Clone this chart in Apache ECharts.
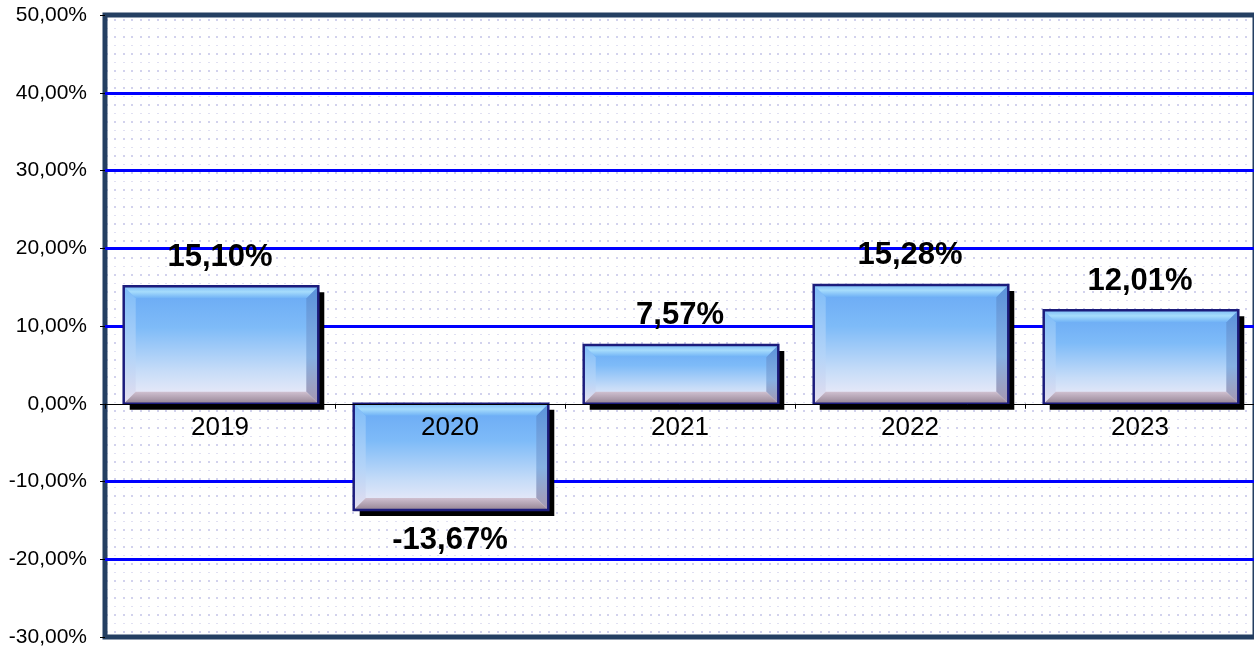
<!DOCTYPE html>
<html>
<head>
<meta charset="utf-8">
<script src="https://cdn.jsdelivr.net/npm/echarts@6/dist/echarts.min.js"></script>
<style>
  html, body { margin: 0; padding: 0; background: #ffffff; }
  #chart { width: 1254px; height: 649px; }
</style>
</head>
<body>
<div id="chart"></div>
<script>
// Annual returns per year
const categories = ['2019', '2020', '2021', '2022', '2023'];
const returns = [15.10, -13.67, 7.57, 15.28, 12.01];

// Value axis range
const yMin = -30;
const yMax = 50;
const yStep = 10;

const FONT = '"Liberation Sans", Arial, Helvetica, sans-serif';

function pct(v) {
  return v.toFixed(2).replace('.', ',') + '%';
}

// Dotted plot-area texture
function makeDots() {
  const c = document.createElement('canvas');
  c.width = 17; c.height = 17;
  const g = c.getContext('2d');
  g.fillStyle = '#ffffff';
  g.fillRect(0, 0, 17, 17);
  g.fillStyle = 'rgba(205,205,235,0.9)';
  g.fillRect(4, 2, 2, 2);
  g.fillRect(12, 2, 2, 2);
  g.fillStyle = 'rgba(218,218,240,0.85)';
  g.fillRect(4, 11, 2, 1);
  g.fillRect(12, 11, 2, 1);
  return c;
}

// Bevelled bar with drop shadow, value label and year label on the zero line
function renderBar(params, api) {
  const idx = api.value(0);
  const v = api.value(1);
  const pTop = api.coord([idx, Math.max(v, 0)]);
  const pBot = api.coord([idx, Math.min(v, 0)]);
  const pZero = api.coord([idx, 0]);
  const band = api.size([1, 0])[0];
  const w = band * 0.846;
  const x = pTop[0] - w / 2 + 1;
  const y = pTop[1];
  const h = pBot[1] - pTop[1];
  const b = Math.min(12, h / 3, w / 3);
  const sh = 6;

  const faceFill = new echarts.graphic.LinearGradient(0, 0, 0, 1, [
    { offset: 0, color: '#68a8f4' },
    { offset: 0.35, color: '#7ebbf8' },
    { offset: 0.72, color: '#c6dcf8' },
    { offset: 1, color: '#f4eef8' }
  ]);
  const topFill = new echarts.graphic.LinearGradient(0, 0, 0, 1, [
    { offset: 0, color: '#7cbcf6' },
    { offset: 0.45, color: '#a6dcfc' },
    { offset: 1, color: '#70b2f6' }
  ]);
  const rightFill = new echarts.graphic.LinearGradient(0, 0, 0, 1, [
    { offset: 0, color: '#5a92da' },
    { offset: 0.6, color: '#86b0e2' },
    { offset: 1, color: '#a898b0' }
  ]);
  const bottomFill = new echarts.graphic.LinearGradient(0, 0, 0, 1, [
    { offset: 0, color: '#cfc0d0' },
    { offset: 1, color: '#958494' }
  ]);
  const leftFill = new echarts.graphic.LinearGradient(0, 0, 0, 1, [
    { offset: 0, color: '#7ebcf8' },
    { offset: 0.6, color: '#b4d4f8' },
    { offset: 1, color: '#e6deee' }
  ]);

  const labelY = v >= 0 ? y - 29 : y + h + 30;

  return {
    type: 'group',
    children: [
      { type: 'rect', shape: { x: x + sh, y: y + sh, width: w, height: h }, style: { fill: '#000000' } },
      { type: 'rect', shape: { x: x, y: y, width: w, height: h }, style: { fill: faceFill } },
      { type: 'polygon', shape: { points: [[x, y], [x + b, y + b], [x + b, y + h - b], [x, y + h]] }, style: { fill: leftFill } },
      { type: 'polygon', shape: { points: [[x + w, y], [x + w, y + h], [x + w - b, y + h - b], [x + w - b, y + b]] }, style: { fill: rightFill } },
      { type: 'polygon', shape: { points: [[x, y + h], [x + w, y + h], [x + w - b, y + h - b], [x + b, y + h - b]] }, style: { fill: bottomFill } },
      { type: 'polygon', shape: { points: [[x, y], [x + w, y], [x + w - b, y + b], [x + b, y + b]] }, style: { fill: topFill } },
      { type: 'rect', shape: { x: x, y: y, width: w, height: h }, style: { fill: 'none', stroke: '#1c1c7c', lineWidth: 2.5 } },
      {
        type: 'text',
        style: {
          text: pct(v), x: pTop[0], y: labelY,
          align: 'center', verticalAlign: 'middle',
          font: 'bold 31px ' + FONT, fill: '#000000'
        }
      },
      {
        type: 'text',
        style: {
          text: categories[params.dataIndex], x: pZero[0], y: pZero[1] + 24,
          align: 'center', verticalAlign: 'middle',
          font: '26px ' + FONT, fill: '#000000'
        }
      }
    ]
  };
}

const chart = echarts.init(document.getElementById('chart'), null, { renderer: 'canvas' });

chart.setOption({
  animation: false,
  backgroundColor: '#ffffff',
  textStyle: { fontFamily: FONT },
  grid: {
    left: 105, right: -1, top: 15, bottom: 12,
    outerBoundsMode: 'none',
    containLabel: false,
    show: true,
    backgroundColor: { image: makeDots(), repeat: 'repeat' },
    borderColor: '#243f62',
    borderWidth: 5
  },
  xAxis: {
    type: 'category',
    data: categories,
    z: 10,
    axisLine: { onZero: true, lineStyle: { color: '#000000', width: 1 } },
    axisTick: { show: true, length: 5, lineStyle: { color: '#000000' } },
    axisLabel: { show: false },
    splitLine: { show: false }
  },
  yAxis: {
    type: 'value',
    min: yMin, max: yMax, interval: yStep,
    axisLine: { show: false },
    axisTick: { show: true, length: 5, lineStyle: { color: '#000000' } },
    axisLabel: { color: '#000000', fontSize: 21, margin: 18, fontFamily: FONT, formatter: pct },
    splitLine: {
      show: true,
      lineStyle: {
        width: 3,
        color: ['rgba(0,0,0,0)', '#0000ff', '#0000ff', 'rgba(0,0,0,0)', '#0000ff', '#0000ff', '#0000ff', '#0000ff', 'rgba(0,0,0,0)']
      }
    }
  },
  series: [{
    type: 'custom',
    renderItem: renderBar,
    encode: { x: 0, y: 1 },
    data: returns.map((v, i) => [i, v]),
    clip: false
  }]
});
</script>
</body>
</html>
